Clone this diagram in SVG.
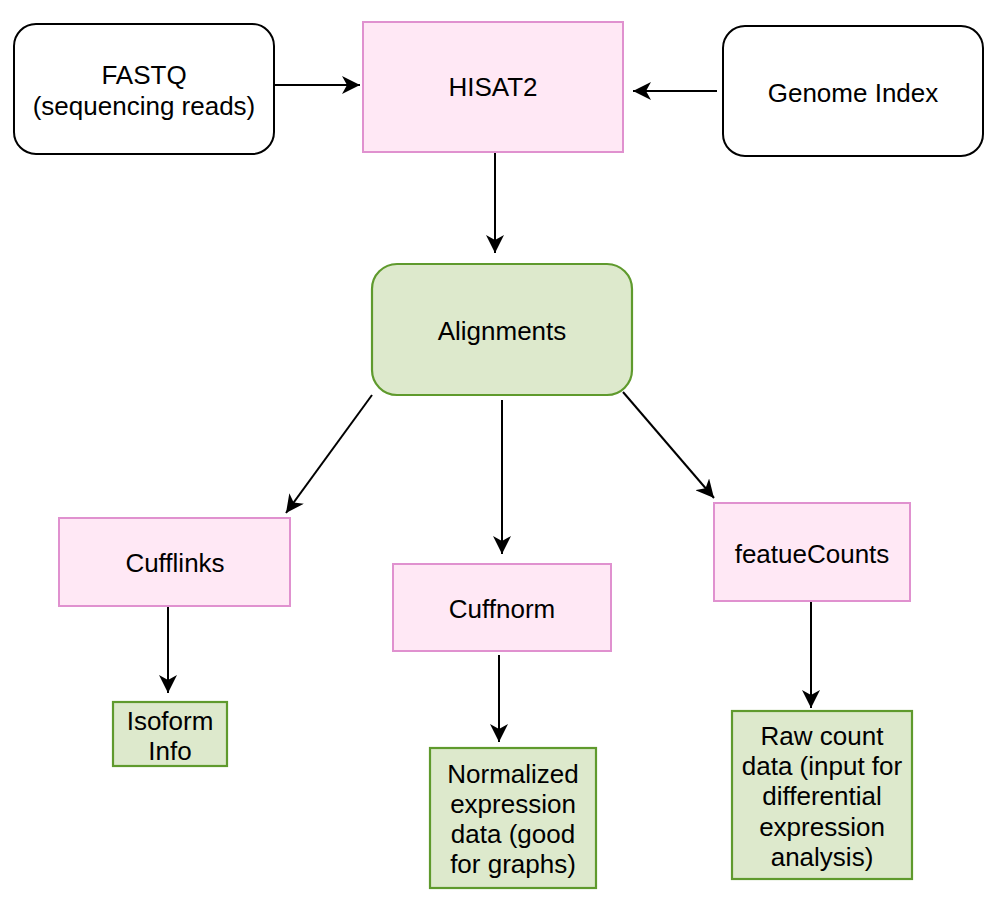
<svg xmlns="http://www.w3.org/2000/svg" width="1000" height="912" viewBox="0 0 1000 912">
<style>
text{font-family:"Liberation Sans",Arial,sans-serif;font-size:26px;fill:#000;text-anchor:middle}
.plain{fill:#fff;stroke:#000;stroke-width:2}
.pink{fill:#ffe8f5;stroke:#e091cf;stroke-width:2}
.green{fill:#dde9cc;stroke:#5f9a2d;stroke-width:2.2}
.edge{stroke:#000;stroke-width:2;fill:none;marker-end:url(#arr)}
</style>
<defs>
<marker id="arr" markerUnits="userSpaceOnUse" viewBox="0 0 18 18" refX="18" refY="9" markerWidth="18" markerHeight="18" orient="auto">
<path d="M0,0 L18,9 L0,18 L5,9 Z" fill="#000"/>
</marker>
</defs>
<rect width="1000" height="912" fill="#fff"/>
<g id="connectors">
<line class="edge" x1="274" y1="85" x2="360" y2="85"/>
<line class="edge" x1="717" y1="91" x2="633" y2="91"/>
<line class="edge" x1="495" y1="152" x2="495" y2="253"/>
<line class="edge" x1="372" y1="395" x2="286" y2="513"/>
<line class="edge" x1="502" y1="400" x2="502" y2="554"/>
<line class="edge" x1="623" y1="392" x2="714" y2="498"/>
<line class="edge" x1="168" y1="607" x2="168" y2="693"/>
<line class="edge" x1="499" y1="655" x2="499" y2="742"/>
<line class="edge" x1="811" y1="601" x2="811" y2="708"/>
</g>
<g id="fastq">
<rect class="plain" x="14" y="24" width="260" height="130" rx="22"/>
<text x="144" y="84">FASTQ</text>
<text x="144" y="115">(sequencing reads)</text>
</g>
<g id="hisat2">
<rect class="pink" x="363" y="22" width="260" height="130"/>
<text x="493" y="96">HISAT2</text>
</g>
<g id="genome">
<rect class="plain" x="723" y="26" width="260" height="130" rx="22"/>
<text x="853" y="102">Genome Index</text>
</g>
<g id="alignments">
<rect class="green" x="372" y="264" width="260" height="131" rx="25"/>
<text x="502" y="340">Alignments</text>
</g>
<g id="cufflinks">
<rect class="pink" x="59" y="518" width="231" height="88"/>
<text x="175" y="572">Cufflinks</text>
</g>
<g id="cuffnorm">
<rect class="pink" x="393" y="564" width="218" height="87"/>
<text x="502" y="618">Cuffnorm</text>
</g>
<g id="featuecounts">
<rect class="pink" x="714" y="503" width="196" height="98"/>
<text x="812" y="563">featueCounts</text>
</g>
<g id="isoform">
<rect class="green" x="113" y="702" width="114" height="64"/>
<text x="170" y="730">Isoform</text>
<text x="170" y="760">Info</text>
</g>
<g id="normalized">
<rect class="green" x="430" y="748" width="166" height="140"/>
<text x="513" y="783">Normalized</text>
<text x="513" y="813">expression</text>
<text x="513" y="843">data (good</text>
<text x="513" y="873">for graphs)</text>
</g>
<g id="rawcount">
<rect class="green" x="732" y="711" width="180" height="168"/>
<text x="822" y="745">Raw count</text>
<text x="822" y="775">data (input for</text>
<text x="822" y="805">differential</text>
<text x="822" y="836">expression</text>
<text x="822" y="866">analysis)</text>
</g>
</svg>
